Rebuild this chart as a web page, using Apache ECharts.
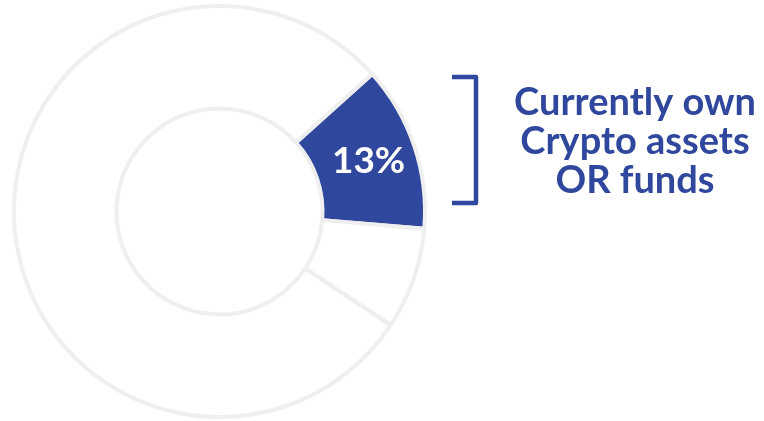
<!DOCTYPE html>
<html>
<head>
<meta charset="utf-8">
<script src="https://cdn.jsdelivr.net/npm/echarts@6/dist/echarts.min.js"></script>
<style>
  html, body { margin: 0; padding: 0; background: #fff; }
  #main { width: 764px; height: 421px; }
</style>
</head>
<body>
<div id="main"></div>
<script>
var myChart = echarts.init(document.getElementById('main'));

// slices, clockwise from the blue one
var sliceNames = ['Own crypto', 'Other', 'Rest'];
var sliceValues = [13, 8, 79];
var sliceLabels = ['13%', '', ''];
var calloutLines = ['Currently own', 'Crypto assets', 'OR funds'];

var blue = '#2f479c';
var ringLine = '#efefef';

var pieData = [];
for (var i = 0; i < sliceValues.length; i++) {
    pieData.push({
        name: sliceNames[i],
        value: sliceValues[i],
        itemStyle: { color: i == 0 ? blue : '#ffffff' },
        label: { show: sliceLabels[i] != '', formatter: sliceLabels[i] }
    });
}

option = {
    animation: false,
    series: [
        {
            type: 'pie',
            center: [219.5, 211.5],
            radius: [103, 205.5],
            startAngle: 42,
            clockwise: true,
            silent: true,
            itemStyle: {
                borderColor: ringLine,
                borderWidth: 4
            },
            label: {
                position: 'inside',
                color: '#fff',
                fontSize: 37,
                fontWeight: 'bold',
                fontFamily: 'Lato'
            },
            labelLine: { show: false },
            emphasis: { disabled: true },
            data: pieData
        }
    ],
    graphic: [
        {
            type: 'polyline',
            shape: { points: [[452, 77], [476, 77], [476, 203], [452, 203]] },
            style: { stroke: blue, lineWidth: 4.5, fill: null, lineJoin: 'round' }
        },
        {
            type: 'text',
            x: 635,
            y: 142,
            style: {
                text: calloutLines.join('\n'),
                align: 'center',
                verticalAlign: 'middle',
                fill: blue,
                fontSize: 38,
                lineHeight: 39,
                fontWeight: 'bold',
                fontFamily: 'Lato'
            }
        }
    ]
};

myChart.setOption(option);
</script>
</body>
</html>
